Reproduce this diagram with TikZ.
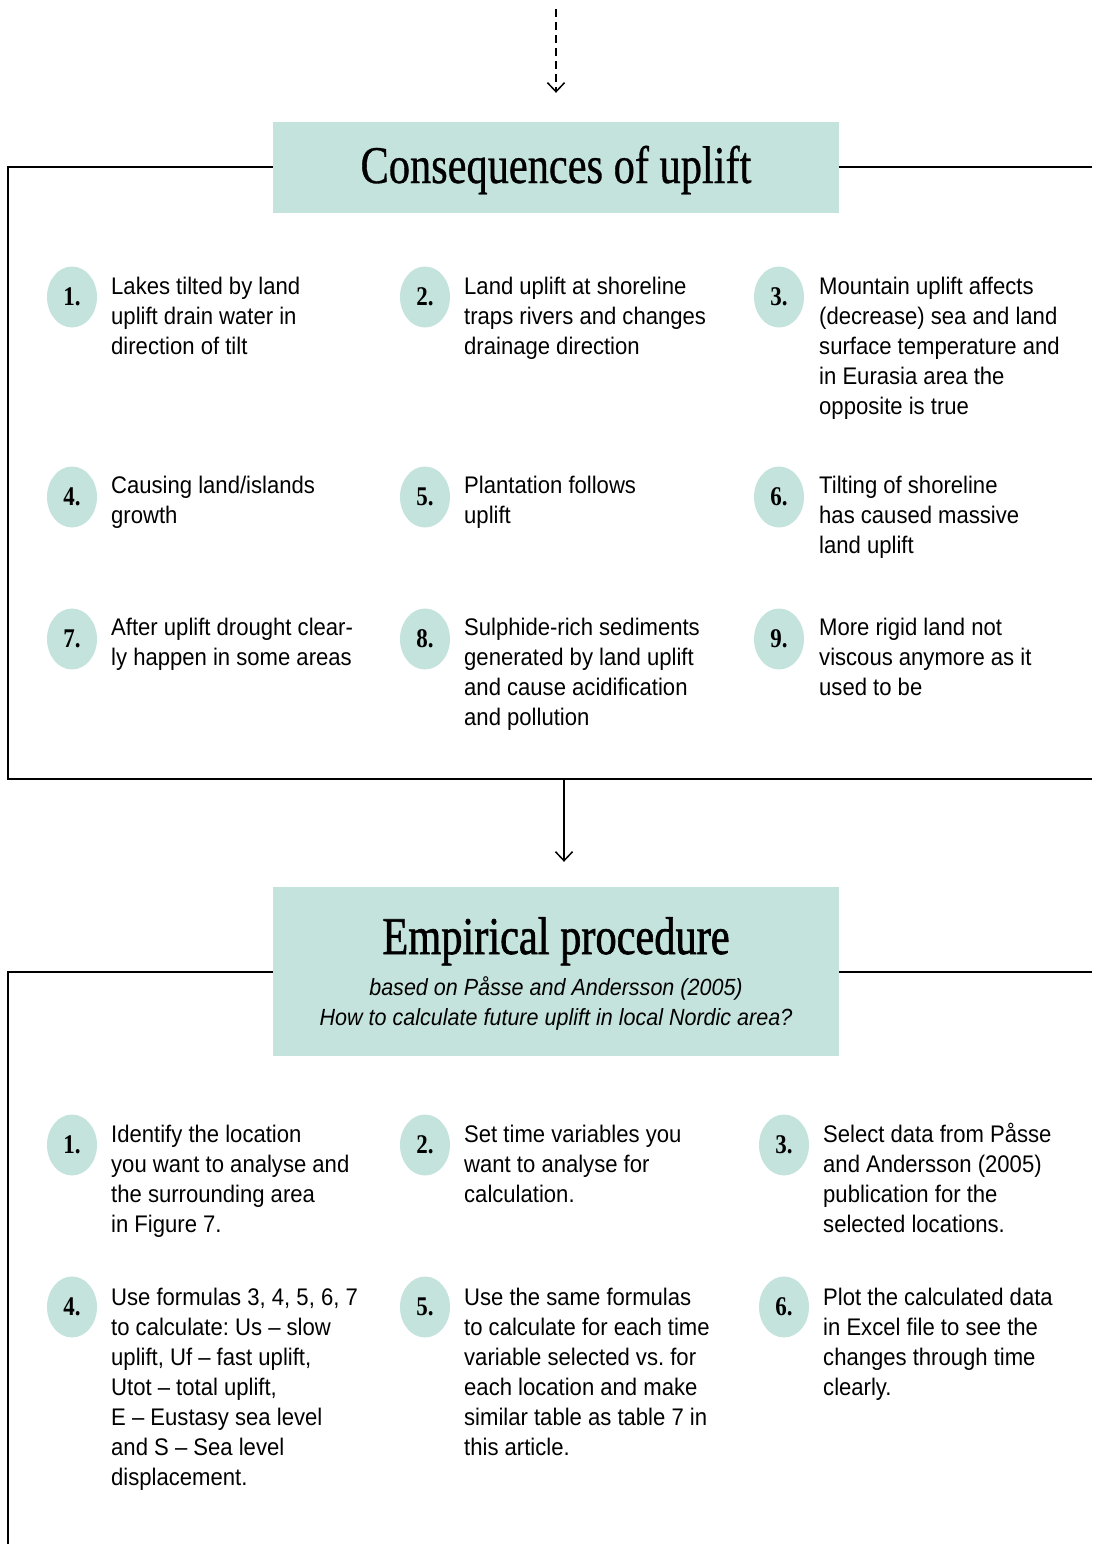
\documentclass[tikz,border=0pt]{standalone}
\usepackage{fontspec}
\setmainfont{Liberation Sans}[FakeStretch=0.92]
\newfontfamily\titlefont{Liberation Serif}[FakeStretch=0.8,FakeBold=0.6]
\newfontfamily\titleboldfont{Liberation Serif}[FakeStretch=0.8,FakeBold=1.2]
\newfontfamily\numfont{Liberation Serif}[FakeStretch=0.85]
\usetikzlibrary{arrows.meta,shapes.geometric}
\definecolor{mint}{HTML}{C4E3DD}
\newcommand\topstrut{\rule{0pt}{20pt}}
\frenchspacing
\tikzset{
  frameline/.style={line width=2.3pt, draw=black},
  conn/.style={line width=1.5pt, -{Straight Barb[length=9pt,width=17pt]}},
  headbox/.style={fill=mint, draw=none, minimum width=566pt, inner sep=0pt},
  numdot/.style={ellipse, fill=mint, minimum width=50pt, minimum height=61pt, inner sep=0pt,
    font=\numfont\bfseries\fontsize{27}{27}\selectfont},
  body/.style={anchor=north west, align=left, inner sep=0pt, yshift=20pt, font=\frenchspacing\fontsize{24}{30}\selectfont},
  subline/.style={anchor=base, inner sep=0pt, font=\itshape\fontsize{23.4}{30}\selectfont},
  title/.style={anchor=base, inner sep=0pt, font=\titlefont\fontsize{53}{53}\selectfont},
  titleb/.style={anchor=base, inner sep=0pt, font=\titleboldfont\fontsize{53}{53}\selectfont},
}
\begin{document}
\begin{tikzpicture}[x=1pt,y=-1pt]
\useasboundingbox (0,0) rectangle (1092,1544);
% frames
\draw[frameline] (1092,167) -- (8,167) -- (8,779) -- (1092,779);
\draw[frameline] (1092,972) -- (8,972) -- (8,1544);
% heading 1
\node[headbox, minimum height=91pt] (h1) at (556,167.5) {};
\node[title] (t1) at (556,183) {Consequences of uplift};
\coordinate (src) at (556,9);
\draw[conn, dash pattern=on 8pt off 5pt, shorten >=29pt] (src) -- (h1.north);
% heading 2
\coordinate (f1) at (564,779);
\node[headbox, minimum height=169pt] (h2) at (556,971.5) {};
\draw[conn, shorten >=25pt] (f1) -- (f1 |- h2.north);
\node[titleb] (t2) at (556,954) {Empirical procedure};
\node[subline] (s1) at (556,995) {based on Påsse and Andersson (2005)};
\node[subline] (s2) at (556,1025) {How to calculate future uplift in local Nordic area?};
% consequences
\node[numdot] (a1) at (72,297) {1.};
\node[body] (ta1) at (111,294) {\topstrut Lakes tilted by land\\uplift drain water in\\direction of tilt};
\node[numdot] (a2) at (425,297) {2.};
\node[body] (ta2) at (464,294) {\topstrut Land uplift at shoreline\\traps rivers and changes\\drainage direction};
\node[numdot] (a3) at (779,297) {3.};
\node[body] (ta3) at (819,294) {\topstrut Mountain uplift affects\\(decrease) sea and land\\surface temperature and\\in Eurasia area the\\opposite is true};
\node[numdot] (a4) at (72,497) {4.};
\node[body] (ta4) at (111,493) {\topstrut Causing land/islands\\growth};
\node[numdot] (a5) at (425,497) {5.};
\node[body] (ta5) at (464,493) {\topstrut Plantation follows\\uplift};
\node[numdot] (a6) at (779,497) {6.};
\node[body] (ta6) at (819,493) {\topstrut Tilting of shoreline\\has caused massive\\land uplift};
\node[numdot] (a7) at (72,639) {7.};
\node[body] (ta7) at (111,635) {\topstrut After uplift drought clear-\\ly happen in some areas};
\node[numdot] (a8) at (425,639) {8.};
\node[body] (ta8) at (464,635) {\topstrut Sulphide-rich sediments\\generated by land uplift\\and cause acidification\\and pollution};
\node[numdot] (a9) at (779,639) {9.};
\node[body] (ta9) at (819,635) {\topstrut More rigid land not\\viscous anymore as it\\used to be};
% procedure
\node[numdot] (b1) at (72,1145) {1.};
\node[body] (tb1) at (111,1142) {\topstrut Identify the location\\you want to analyse and\\the surrounding area\\in Figure 7.};
\node[numdot] (b2) at (425,1145) {2.};
\node[body] (tb2) at (464,1142) {\topstrut Set time variables you\\want to analyse for\\calculation.};
\node[numdot] (b3) at (784,1145) {3.};
\node[body] (tb3) at (823,1142) {\topstrut Select data from Påsse\\and Andersson (2005)\\publication for the\\selected locations.};
\node[numdot] (b4) at (72,1307) {4.};
\node[body] (tb4) at (111,1305) {\topstrut Use formulas 3, 4, 5, 6, 7\\to calculate: Us – slow\\uplift, Uf – fast uplift,\\Utot – total uplift,\\E – Eustasy sea level\\and S – Sea level\\displacement.};
\node[numdot] (b5) at (425,1307) {5.};
\node[body] (tb5) at (464,1305) {\topstrut Use the same formulas\\to calculate for each time\\variable selected vs. for\\each location and make\\similar table as table 7 in\\this article.};
\node[numdot] (b6) at (784,1307) {6.};
\node[body] (tb6) at (823,1305) {\topstrut Plot the calculated data\\in Excel file to see the\\changes through time\\clearly.};
\end{tikzpicture}
\end{document}
